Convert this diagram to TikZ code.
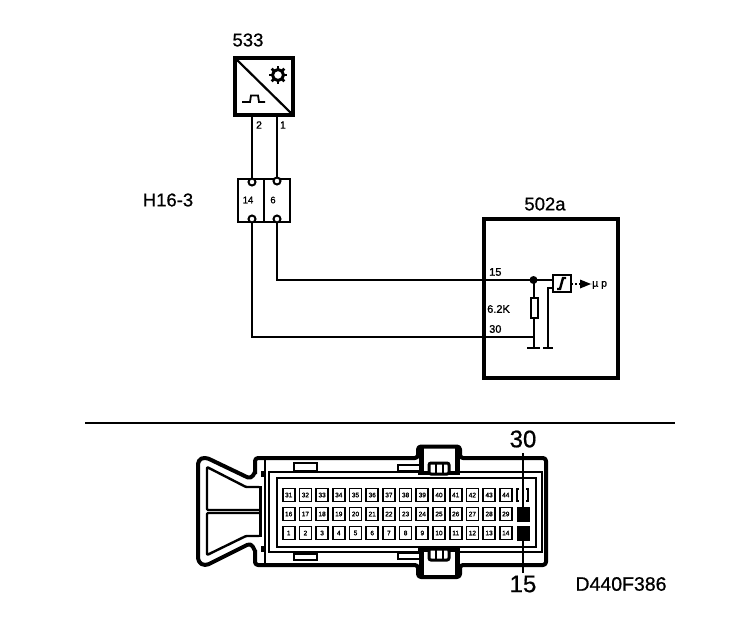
\documentclass[tikz,border=0pt]{standalone}
\usepackage{fontspec}
\setmainfont{Liberation Sans}
\newfontfamily\heavy[FakeBold=0.7]{Liberation Sans}
\newfontfamily\heavier[FakeBold=1.2]{Liberation Sans}
\usetikzlibrary{arrows.meta,calc}
\newcommand{\fsz}[1]{\fontsize{#1}{#1}\selectfont}
\tikzset{
  wire/.style={line width=2pt,black},
  thick box/.style={draw,line width=3.5pt,outer sep=0pt,inner sep=0pt,fill=white},
  title/.style={inner sep=0pt,font=\heavy\fsz{18.5}},
  small/.style={inner sep=0pt,font=\heavier\fsz{10.5}},
  term/.style={circle,draw,line width=2pt,fill=white,minimum size=7pt,inner sep=0pt,outer sep=0pt},
  pin/.style={draw,line width=1.7pt,minimum width=12pt,minimum height=13pt,inner sep=0pt,outer sep=0pt,fill=white,font=\heavier\fsz{6.5}},
  pinblack/.style={draw,fill=black,minimum width=12pt,minimum height=14pt,inner sep=0pt,outer sep=0pt},
  tab/.style={draw,line width=2pt,fill=white,inner sep=0pt,outer sep=0pt},
  big/.style={inner sep=0pt,font=\heavy\fsz{24}},
  housing/.style={line width=4pt,line join=round,black},
  housingin/.style={line width=2.4pt,line join=round,black},
  housingthin/.style={line width=1.5pt,black},
  gnd/.style={line width=2pt}
}
\begin{document}
\begin{tikzpicture}[x=1pt,y=-1pt]
\useasboundingbox (0,0) rectangle (736,630);
% titles
\node[title] (t533) at (248,40) {533};
\node[title] (th16) at (168,200) {H16-3};
\node[title] (t502) at (545,204) {502a};
% sensor 533
\node[thick box,minimum width=58pt,minimum height=57pt] (sensor) at (264,86.5) {};
\draw[line width=2.2pt] (sensor.north west) -- (sensor.south east);
\draw[line width=1.8pt] (242,102) -- (250,102) -- (251,95.5) -- (258,95.5) -- (259,102) -- (265,102);
\node[circle,draw,line width=3pt,minimum size=11pt,inner sep=0pt] (gear) at (278,75) {};
\foreach \a in {0,45,...,315}{\draw[line width=2.6pt] ($(gear)+(\a:5)$) -- ($(gear)+(\a:9)$);}
\coordinate (s2) at (252,115);
\coordinate (s1) at (277,115);
\node[small] (n2) at (259,125) {2};
\node[small] (n1) at (283,125) {1};
% H16-3
\node[draw,line width=2.4pt,minimum width=52pt,minimum height=43pt,inner sep=0pt,outer sep=0pt,fill=white] (h16) at (264,200.5) {};
\draw[line width=1.5pt] (h16.north) -- (h16.south);
\node[term] (a2) at (252,182) {};
\node[term] (a1) at (277,181) {};
\node[term] (b2) at (252,219) {};
\node[term] (b1) at (277,219) {};
\node[small,font=\heavier\fsz{9.5}] (n14) at (248,200) {14};
\node[small,font=\heavier\fsz{9.5}] (n6) at (273,200) {6};
\draw[wire] (s2) -- (a2);
\draw[wire] (s1) -- (a1);
% ECU 502a
\node[draw,line width=3.5pt,minimum width=134pt,minimum height=159pt,inner sep=0pt,outer sep=0pt] (ecu) at (551,298.5) {};
\coordinate (j15) at (533.5,280);
\node[fill=black,circle,minimum size=8pt,inner sep=0pt] (dot) at (j15) {};
\node[draw,line width=2.4pt,minimum width=18pt,minimum height=17pt,inner sep=0pt,outer sep=0pt] (schmitt) at (562,283.5) {};
\draw[line width=2.4pt] (557,289) -- (560,289) -- (563,278) -- (566,278);
\node[draw,line width=1.6pt,minimum width=7.5pt,minimum height=20pt,inner sep=0pt,outer sep=0pt,fill=white] (res) at (534.5,308) {};
\coordinate (g1) at (533.5,348);
\coordinate (g2) at (548,348);
\coordinate (s2in) at (553,288);
\coordinate (w30) at (533.5,337);
\draw[wire] (b1) |- (schmitt.west |- j15);
\draw[wire] (b2) |- (w30);
\draw[wire] (j15) -- (res.north -| j15);
\draw[wire] (res.south -| j15) -- (g1);
\draw[wire] (s2in) -- (g2 |- s2in) -- (g2);
\draw[gnd] ($(g1)+(-6.5,0)$) -- ($(g1)+(6.5,0)$);
\draw[gnd] ($(g2)+(-5,0)$) -- ($(g2)+(5,0)$);
\node[small,anchor=west,font=\heavier\fsz{11}] (l15) at (489,272) {15};
\node[small,anchor=west,font=\heavier\fsz{11}] (l62) at (487,309) {6.2K};
\node[small,anchor=west,font=\heavier\fsz{11}] (l30) at (489,329) {30};
\coordinate (out) at (591,284);
\draw[line width=2pt,dotted] (schmitt.east |- out) -- (out);
\fill (580,279.5) -- (591,284) -- (580,288.5) -- cycle;
\node[small,anchor=west,font=\heavier\fsz{10.5}] (mup) at (592,285) {\textmu\ p};
% separator
\coordinate (sepL) at (85,423);
\coordinate (sepR) at (675,423);
\draw[line width=2.8pt] (sepL) -- (sepR);
% connector housing
\draw[housing,rounded corners=3pt]
  (255,474) -- (255,458) -- (418,458) -- (418,446.5) -- (460,446.5) -- (460,458) -- (546,458)
  -- (546,565) -- (460,565) -- (460,577) -- (418,577) -- (418,565) -- (255,565) -- (255,550);
\draw[housing,rounded corners=4pt]
  (255,472) -- (251,479) -- (205,457) -- (198,460) -- (198,562) -- (205,566) -- (251,543) -- (255,551);
\draw[housingin,rounded corners=1pt]
  (259,487) -- (246,487) -- (207,467) -- (207,510) -- (259,510);
\draw[housingin,rounded corners=1pt]
  (259,513) -- (207,513) -- (207,555) -- (246,536) -- (259,536);
\draw[housingthin] (265,458) -- (265,565);
\draw[line width=3pt] (260,486) -- (260,537);
\draw[line width=3pt] (262,471) -- (262,477) (262,546) -- (262,552);
\node[draw,line width=1.8pt,minimum width=273pt,minimum height=80pt,inner sep=0pt,outer sep=0pt] (frameA) at (405.5,512) {};
\node[draw,line width=2.6pt,minimum width=259pt,minimum height=69pt,inner sep=0pt,outer sep=0pt] (frameB) at (406.5,512.5) {};
% tabs
\node[tab,minimum width=23pt,minimum height=8pt] (tabA) at (305.5,467) {};
\node[tab,minimum width=22pt,minimum height=6pt] (tabB) at (409,468) {};
\node[tab,minimum width=23pt,minimum height=6pt] (tabC) at (305.5,557) {};
\node[tab,minimum width=22pt,minimum height=6pt] (tabD) at (409,556) {};
% locks
\node[draw=none,fill=white,minimum width=34pt,minimum height=24pt,inner sep=0pt] (lockT) at (439,461) {};
\node[draw=none,fill=white,minimum width=34pt,minimum height=24pt,inner sep=0pt] (lockB) at (439,562) {};
\draw[line width=5pt] (421,472) -- (421,448) (457,472) -- (457,448);
\draw[line width=5pt] (421,551) -- (421,575) (457,551) -- (457,575);
\draw[line width=3pt,rounded corners=2pt] (429,474) -- (429,463) -- (449,463) -- (449,474) -- cycle;
\draw[line width=3pt,rounded corners=2pt] (429,549) -- (429,560) -- (449,560) -- (449,549) -- cycle;
\draw[line width=2.4pt] (436,463) -- (436,474) (443,463) -- (443,474) (436,549) -- (436,560) (443,549) -- (443,560);
\draw[line width=3.5pt] (418,473) -- (429,473) (449,473) -- (460,473) (418,550) -- (429,550) (449,550) -- (460,550);
% pins
\foreach \i in {1,...,14}{
  \pgfmathsetmacro{\xx}{288.7+(\i-1)*16.7}
  \pgfmathtruncatemacro{\nb}{\i}
  \pgfmathtruncatemacro{\nm}{\i+15}
  \pgfmathtruncatemacro{\nt}{\i+30}
  \node[pin] (p\nb) at (\xx,533) {\nb};
  \node[pin] (p\nm) at (\xx,514) {\nm};
  \node[pin] (p\nt) at (\xx,495) {\nt};
}
\node[pin,draw=none] (p45) at (522.5,495) {};
\draw[line width=1.6pt] (519,489) -- (517,489) -- (517,501) -- (519,501) (526,489) -- (528,489) -- (528,501) -- (526,501);
\node[pinblack] (p30) at (523,514) {};
\node[pinblack] (p15) at (523,533.5) {};
% callouts
\node[big] (big30) at (523,439) {30};
\node[big] (big15) at (523,584) {15};
\coordinate (c30) at (523,453);
\coordinate (c15) at (523,573);
\draw[line width=2pt] (c30) -- (p30);
\draw[line width=2pt] (p15) -- (c15);
\node[title,font=\heavy\fsz{19.5}] (code) at (621,584) {D440F386};
\end{tikzpicture}
\end{document}
